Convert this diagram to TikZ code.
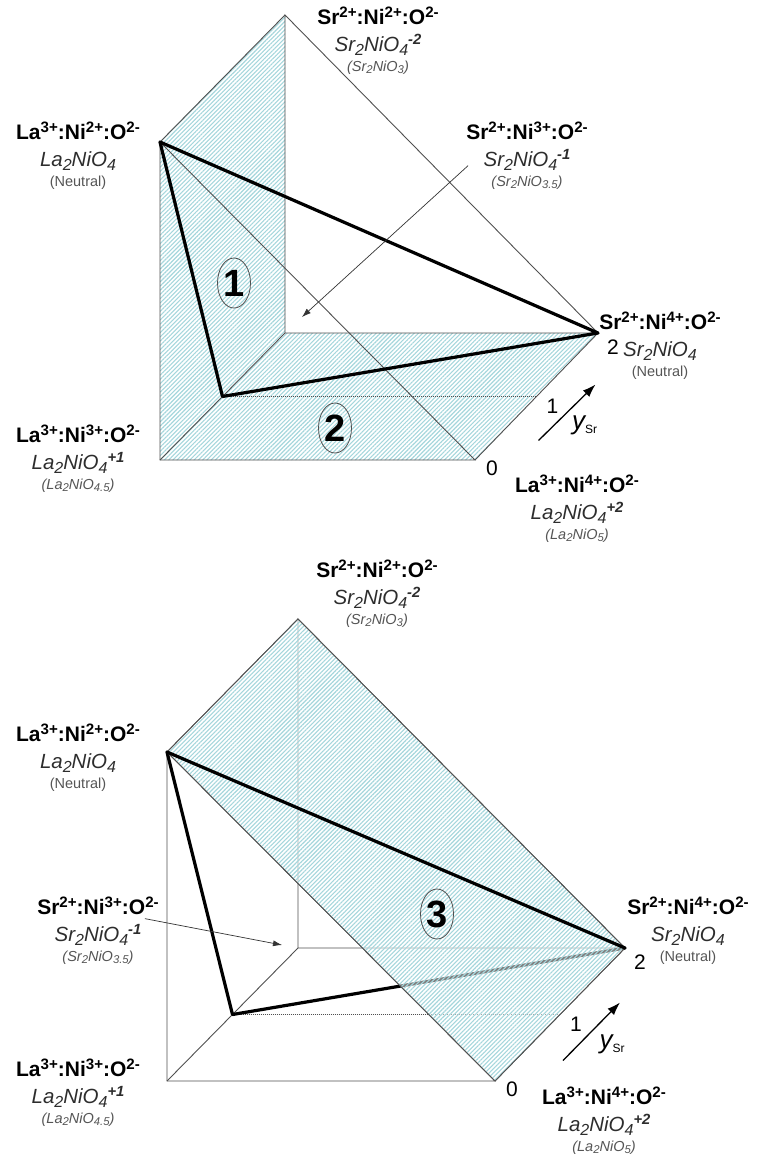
\documentclass[tikz,border=0pt]{standalone}
\usepackage{fontspec}
\setmainfont{Liberation Sans}
\usetikzlibrary{arrows.meta, calc, shapes.geometric, patterns.meta}

\definecolor{hatch}{RGB}{165,214,220}
\definecolor{edgegrey}{RGB}{80,80,80}
\definecolor{formula}{RGB}{45,45,45}
\definecolor{note}{RGB}{85,85,85}

\newcommand{\charge}[1]{\raisebox{0.3em}{\scalebox{0.72}{#1}}}
\newcommand{\stoich}[1]{\raisebox{-0.2em}{\scalebox{0.78}{#1}}}
\newcommand{\ionlab}[3]{%
  {\fontsize{21}{22}\selectfont\bfseries #1}\\[5pt]
  {\fontsize{20.5}{21}\selectfont\itshape\color{formula}#2}\\[-2pt]
  {\fontsize{14.5}{15}\selectfont\color{note}#3}}

\begin{document}
\begin{tikzpicture}[
    x=1pt, y=-1pt,
    >=Latex,
    edge/.style={draw=edgegrey, line width=0.9pt},
    bond/.style={line width=3.2pt, line join=round, line cap=round},
    level/.style={draw=edgegrey, line width=0.7pt, dash pattern=on 1pt off 1pt},
    face/.style={pattern={Lines[angle=45, distance=3pt, line width=1.1pt]}, pattern color=hatch},
    ionlabel/.style={align=center, anchor=north, inner sep=0pt, font=\fontsize{20}{22}\selectfont},
    region/.style={ellipse, draw=edgegrey, line width=0.8pt, minimum width=33pt, minimum height=50pt, inner sep=0pt, font=\fontsize{38}{38}\selectfont\bfseries},
    tick/.style={inner sep=0pt, font=\fontsize{21}{21}\selectfont},
    pointer/.style={-{Latex[length=9pt, width=6pt]}, draw=black!80, line width=0.7pt},
    axis/.style={-{Latex[length=13pt, width=9pt]}, line width=1.3pt}
]
\useasboundingbox (0,0) rectangle (760,1159);

% upper prism: faces 1 and 2
\coordinate (t-la2) at (160,142);
\coordinate (t-la3) at (160,460);
\coordinate (t-la4) at (475,460);
\coordinate (t-sr2) at (285,15);
\coordinate (t-sr3) at (285,333);
\coordinate (t-sr4) at (598,333);
\coordinate (t-mid) at ($(t-la3)!0.5!(t-sr3)$);
\coordinate (t-midr) at ($(t-la4)!0.5!(t-sr4)$);

\fill[face] (t-la2) -- (t-sr2) -- (t-sr3) -- (t-la3) -- cycle;
\fill[face] (t-la3) -- (t-la4) -- (t-sr4) -- (t-sr3) -- cycle;
\draw[edge] (t-la2) -- (t-la3) -- (t-la4) -- cycle;
\draw[edge] (t-sr2) -- (t-sr3) -- (t-sr4) -- cycle;
\draw[edge] (t-la2) -- (t-sr2) (t-la3) -- (t-sr3) (t-la4) -- (t-sr4);
\draw[level] (t-mid) -- (t-midr);
\draw[bond] (t-la2) -- (t-mid) -- (t-sr4) -- cycle;

\node[region] (t-face1) at (234,283) {1};
\node[region] (t-face2) at (335,428) {2};

\node[ionlabel] (t-sr2lab) at (378,7) {\ionlab{Sr\charge{2+}:Ni\charge{2+}:O\charge{2-}}{Sr\stoich{2}NiO\stoich{4}\charge{\bfseries -2}}{\itshape (Sr\stoich{2}NiO\stoich{3})}};
\node[ionlabel] (t-la2lab) at (78,122) {\ionlab{La\charge{3+}:Ni\charge{2+}:O\charge{2-}}{La\stoich{2}NiO\stoich{4}}{(Neutral)}};
\node[ionlabel] (t-sr3lab) at (527,122) {\ionlab{Sr\charge{2+}:Ni\charge{3+}:O\charge{2-}}{Sr\stoich{2}NiO\stoich{4}\charge{\bfseries -1}}{\itshape (Sr\stoich{2}NiO\stoich{3.5})}};
\node[ionlabel] (t-sr4lab) at (660,312) {\ionlab{Sr\charge{2+}:Ni\charge{4+}:O\charge{2-}}{Sr\stoich{2}NiO\stoich{4}}{(Neutral)}};
\node[ionlabel] (t-la3lab) at (78,425) {\ionlab{La\charge{3+}:Ni\charge{3+}:O\charge{2-}}{La\stoich{2}NiO\stoich{4}\charge{\bfseries +1}}{\itshape (La\stoich{2}NiO\stoich{4.5})}};
\node[ionlabel] (t-la4lab) at (577,475) {\ionlab{La\charge{3+}:Ni\charge{4+}:O\charge{2-}}{La\stoich{2}NiO\stoich{4}\charge{\bfseries +2}}{\itshape (La\stoich{2}NiO\stoich{5})}};

\coordinate (t-sr3pt) at (302,317);
\draw[pointer] ([xshift=2pt, yshift=-10pt]t-sr3lab.west) -- (t-sr3pt);

\node[tick] (t-y0) at ($(t-la4)+(17,8)$) {0};
\node[tick] (t-y1) at ($(t-midr)+(16,10)$) {1};
\node[tick] (t-y2) at ($(t-sr4)+(15,14)$) {2};
\coordinate (t-ytail) at ($(t-midr)+(2,44)$);
\coordinate (t-yhead) at ($(t-midr)+(59,-12)$);
\draw[axis] (t-ytail) -- (t-yhead);
\node[inner sep=0pt] (t-ysr) at ($(t-midr)+(48,29)$) {{\fontsize{26}{26}\selectfont\itshape y}\raisebox{-4pt}{\fontsize{12}{12}\selectfont Sr}};

% lower prism: face 3
\coordinate (b-la2) at (167,752);
\coordinate (b-la3) at (167,1081);
\coordinate (b-la4) at (495,1081);
\coordinate (b-sr2) at (298,619);
\coordinate (b-sr3) at (298,948);
\coordinate (b-sr4) at (625,948);
\coordinate (b-mid) at ($(b-la3)!0.5!(b-sr3)$);
\coordinate (b-midr) at ($(b-la4)!0.5!(b-sr4)$);

\draw[edge] (b-la2) -- (b-la3) -- (b-la4) -- cycle;
\draw[edge] (b-sr2) -- (b-sr3) -- (b-sr4) -- cycle;
\draw[edge] (b-la2) -- (b-sr2) (b-la3) -- (b-sr3) (b-la4) -- (b-sr4);
\draw[level] (b-mid) -- (b-midr);
\draw[bond] (b-la2) -- (b-mid) -- (b-sr4);
\fill[white, fill opacity=0.5] (b-la2) -- (b-sr2) -- (b-sr4) -- (b-la4) -- cycle;
\fill[face] (b-la2) -- (b-sr2) -- (b-sr4) -- (b-la4) -- cycle;
\draw[edge] (b-la2) -- (b-sr2) -- (b-sr4) -- (b-la4) -- cycle;
\draw[bond] (b-la2) -- (b-sr4);

\node[region] (b-face3) at (437,914) {3};

\node[ionlabel] (b-sr2lab) at (377,560) {\ionlab{Sr\charge{2+}:Ni\charge{2+}:O\charge{2-}}{Sr\stoich{2}NiO\stoich{4}\charge{\bfseries -2}}{\itshape (Sr\stoich{2}NiO\stoich{3})}};
\node[ionlabel] (b-la2lab) at (78,724) {\ionlab{La\charge{3+}:Ni\charge{2+}:O\charge{2-}}{La\stoich{2}NiO\stoich{4}}{(Neutral)}};
\node[ionlabel] (b-sr3lab) at (98,897) {\ionlab{Sr\charge{2+}:Ni\charge{3+}:O\charge{2-}}{Sr\stoich{2}NiO\stoich{4}\charge{\bfseries -1}}{\itshape (Sr\stoich{2}NiO\stoich{3.5})}};
\node[ionlabel] (b-sr4lab) at (688,897) {\ionlab{Sr\charge{2+}:Ni\charge{4+}:O\charge{2-}}{Sr\stoich{2}NiO\stoich{4}}{(Neutral)}};
\node[ionlabel] (b-la3lab) at (78,1059) {\ionlab{La\charge{3+}:Ni\charge{3+}:O\charge{2-}}{La\stoich{2}NiO\stoich{4}\charge{\bfseries +1}}{\itshape (La\stoich{2}NiO\stoich{4.5})}};
\node[ionlabel] (b-la4lab) at (604,1087) {\ionlab{La\charge{3+}:Ni\charge{4+}:O\charge{2-}}{La\stoich{2}NiO\stoich{4}\charge{\bfseries +2}}{\itshape (La\stoich{2}NiO\stoich{5})}};

\coordinate (b-sr3pt) at (282,945);
\draw[pointer] ([xshift=-14pt, yshift=12pt]b-sr3lab.east) -- (b-sr3pt);

\node[tick] (b-y0) at ($(b-la4)+(17,8)$) {0};
\node[tick] (b-y1) at ($(b-midr)+(16,10)$) {1};
\node[tick] (b-y2) at ($(b-sr4)+(15,14)$) {2};
\coordinate (b-ytail) at ($(b-midr)+(3,46)$);
\coordinate (b-yhead) at ($(b-midr)+(60,-12)$);
\draw[axis] (b-ytail) -- (b-yhead);
\node[inner sep=0pt] (b-ysr) at ($(b-midr)+(52,30)$) {{\fontsize{26}{26}\selectfont\itshape y}\raisebox{-4pt}{\fontsize{12}{12}\selectfont Sr}};
\end{tikzpicture}
\end{document}
